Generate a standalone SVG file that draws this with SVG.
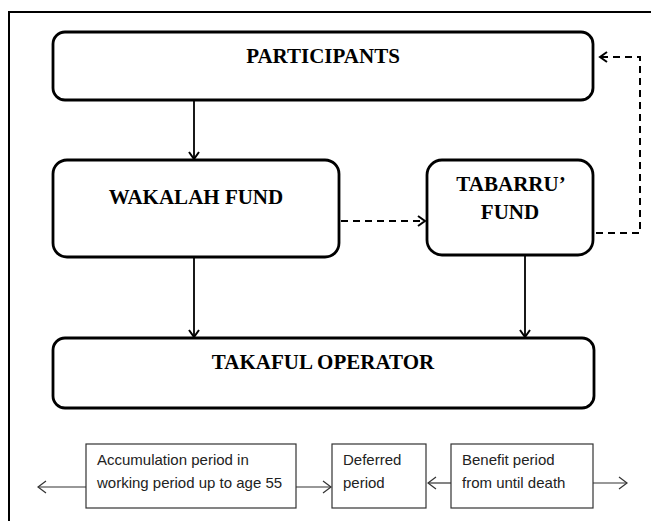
<svg xmlns="http://www.w3.org/2000/svg" width="651" height="521" viewBox="0 0 651 521">
<style>
.node{fill:#fff;stroke:#000;stroke-width:2.8}
.lbl{font-family:"Liberation Serif","Times New Roman",serif;font-weight:bold;font-size:21px;fill:#000;text-anchor:middle}
.box{fill:#fff;stroke:#333;stroke-width:1.2}
.txt{font-family:"Liberation Sans",Arial,sans-serif;font-size:15px;fill:#222}
.solid{fill:none;stroke:#000;stroke-width:1.8}
.dash{fill:none;stroke:#000;stroke-width:2;stroke-dasharray:7 5}
.thin{fill:none;stroke:#333;stroke-width:1.2}
</style>
<defs>
<marker id="ah" markerWidth="12" markerHeight="12" refX="10" refY="6" orient="auto" markerUnits="userSpaceOnUse">
<path d="M3,1 L10,6 L3,11" fill="none" stroke="#000" stroke-width="2"/>
</marker>
<marker id="ahs" markerWidth="12" markerHeight="14" refX="11" refY="7" orient="auto" markerUnits="userSpaceOnUse">
<path d="M3,1 L11,7 L3,13" fill="none" stroke="#333" stroke-width="1.2"/>
</marker>
</defs>
<rect width="651" height="521" fill="#fff"/>
<g id="frame">
<path d="M651,12 H9 V521" fill="none" stroke="#000" stroke-width="2"/>
</g>
<g id="participants">
<rect class="node" x="53" y="32" width="540" height="68" rx="12"/>
<text class="lbl" x="323" y="63">PARTICIPANTS</text>
</g>
<g id="wakalah">
<rect class="node" x="53" y="160" width="286" height="97" rx="14"/>
<text class="lbl" x="196" y="204">WAKALAH FUND</text>
</g>
<g id="tabarru">
<rect class="node" x="427" y="160" width="166" height="95" rx="15"/>
<text class="lbl" x="511" y="191">TABARRU’</text>
<text class="lbl" x="510" y="219">FUND</text>
</g>
<g id="takaful">
<rect class="node" x="53" y="338" width="541" height="70" rx="12"/>
<text class="lbl" x="323" y="369">TAKAFUL OPERATOR</text>
</g>
<g id="accumulation">
<rect class="box" x="86" y="444" width="210" height="64"/>
<text class="txt" x="97" y="465">Accumulation period in</text>
<text class="txt" x="97" y="488">working period up to age 55</text>
</g>
<g id="deferred">
<rect class="box" x="332" y="444" width="94" height="64"/>
<text class="txt" x="343" y="465">Deferred</text>
<text class="txt" x="343" y="488">period</text>
</g>
<g id="benefit">
<rect class="box" x="451" y="444" width="142" height="64"/>
<text class="txt" x="462" y="465">Benefit period</text>
<text class="txt" x="462" y="488">from until death</text>
</g>
<g id="connectors">
<line class="solid" x1="194" y1="101" x2="194" y2="159" marker-end="url(#ah)"/>
<line class="solid" x1="194" y1="258" x2="194" y2="337" marker-end="url(#ah)"/>
<line class="solid" x1="525" y1="256" x2="525" y2="337" marker-end="url(#ah)"/>
<line class="dash" x1="341" y1="221" x2="425" y2="221" marker-end="url(#ah)"/>
<polyline class="dash" points="596,233 640,233 640,57 600,57" marker-end="url(#ah)"/>
<line class="thin" x1="86" y1="487" x2="38" y2="487" marker-end="url(#ahs)"/>
<line class="thin" x1="296" y1="487" x2="331" y2="487" marker-end="url(#ahs)"/>
<line class="thin" x1="451" y1="483" x2="428" y2="483" marker-end="url(#ahs)"/>
<line class="thin" x1="593" y1="483" x2="627" y2="483" marker-end="url(#ahs)"/>
</g>
</svg>
